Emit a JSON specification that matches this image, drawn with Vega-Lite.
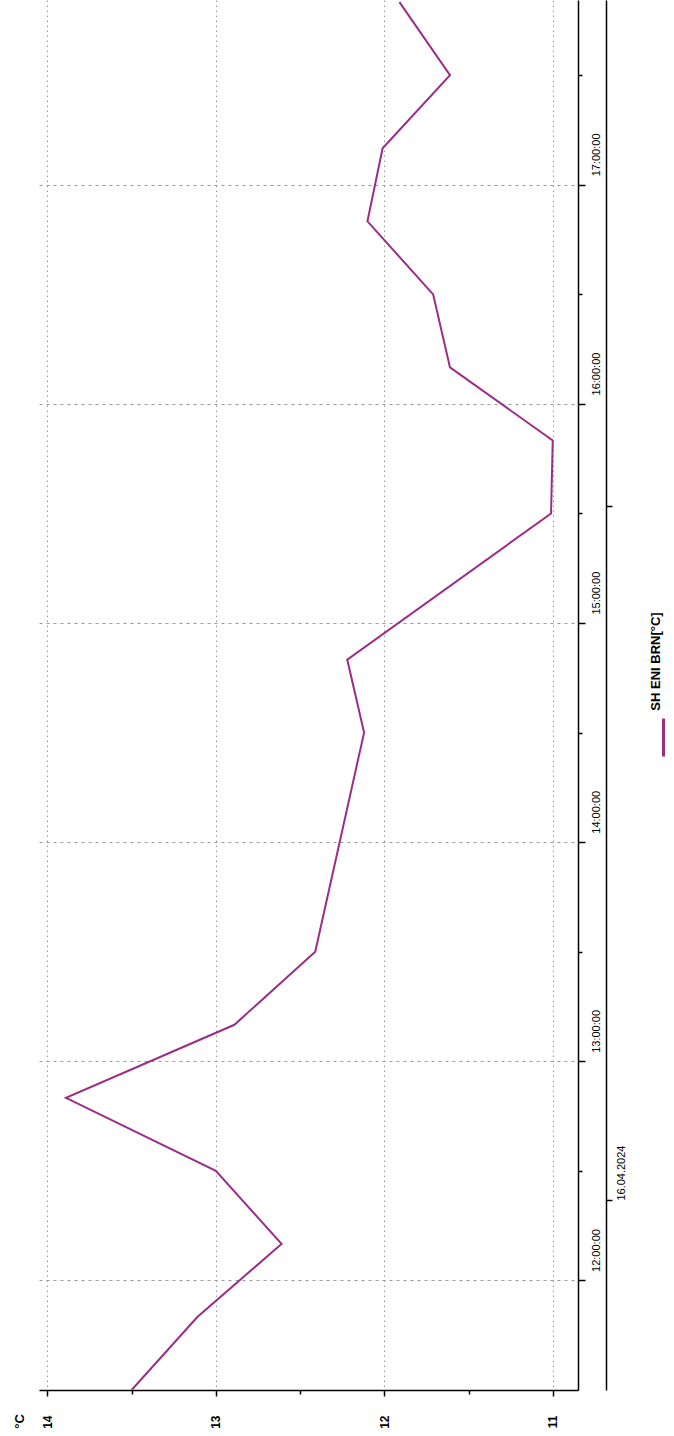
{
  "$schema": "https://vega.github.io/schema/vega-lite/v6.json",
  "width": 539,
  "height": 1390,
  "autosize": "none",
  "padding": {"left": 39, "top": 0, "right": 96, "bottom": 46},
  "background": "white",
  "config": {"view": {"stroke": null}, "font": "Liberation Sans"},
  "data": {
    "values": [
      {"time": "2024-04-16T11:30:00", "temp": 13.50, "series": "SH ENI BRN[°C]"},
      {"time": "2024-04-16T11:50:00", "temp": 13.11, "series": "SH ENI BRN[°C]"},
      {"time": "2024-04-16T12:10:00", "temp": 12.61, "series": "SH ENI BRN[°C]"},
      {"time": "2024-04-16T12:30:00", "temp": 13.00, "series": "SH ENI BRN[°C]"},
      {"time": "2024-04-16T12:50:00", "temp": 13.89, "series": "SH ENI BRN[°C]"},
      {"time": "2024-04-16T13:10:00", "temp": 12.89, "series": "SH ENI BRN[°C]"},
      {"time": "2024-04-16T13:30:00", "temp": 12.41, "series": "SH ENI BRN[°C]"},
      {"time": "2024-04-16T14:30:00", "temp": 12.12, "series": "SH ENI BRN[°C]"},
      {"time": "2024-04-16T14:50:00", "temp": 12.22, "series": "SH ENI BRN[°C]"},
      {"time": "2024-04-16T15:30:00", "temp": 11.01, "series": "SH ENI BRN[°C]"},
      {"time": "2024-04-16T15:50:00", "temp": 11.00, "series": "SH ENI BRN[°C]"},
      {"time": "2024-04-16T16:10:00", "temp": 11.61, "series": "SH ENI BRN[°C]"},
      {"time": "2024-04-16T16:30:00", "temp": 11.71, "series": "SH ENI BRN[°C]"},
      {"time": "2024-04-16T16:50:00", "temp": 12.10, "series": "SH ENI BRN[°C]"},
      {"time": "2024-04-16T17:10:00", "temp": 12.01, "series": "SH ENI BRN[°C]"},
      {"time": "2024-04-16T17:30:00", "temp": 11.61, "series": "SH ENI BRN[°C]"},
      {"time": "2024-04-16T17:50:00", "temp": 11.91, "series": "SH ENI BRN[°C]"}
    ]
  },
  "layer": [
    {
      "mark": {"type": "line", "strokeWidth": 2, "clip": true},
      "encoding": {
        "x": {
          "field": "temp",
          "type": "quantitative",
          "scale": {"domain": [10.85, 14.05], "reverse": true, "nice": false, "zero": false},
          "axis": {
            "orient": "bottom",
            "values": [11, 12, 13, 14],
            "format": "d",
            "labelAngle": 270,
            "labelAlign": "right",
            "labelBaseline": "middle",
            "labelPadding": 19,
            "labelFontSize": 12,
            "labelFontWeight": "bold",
            "labelColor": "black",
            "labelOverlap": false,
            "labelBound": false,
            "labelFlush": false,
            "domainColor": "black",
            "domainWidth": 1.5,
            "tickColor": "black",
            "tickWidth": 1.5,
            "tickSize": 6,
            "grid": true,
            "gridColor": "#999999",
            "gridDash": [1.5, 3.5],
            "title": "°C",
            "titleAngle": 270,
            "titleX": -20,
            "titleY": 31,
            "titleAlign": "center",
            "titleBaseline": "middle",
            "titleFontSize": 13,
            "titleFontWeight": "bold",
            "titleColor": "black"
          }
        },
        "y": {
          "field": "time",
          "type": "temporal",
          "scale": {
            "domain": [
              {"year": 2024, "month": 4, "date": 16, "hours": 11, "minutes": 30},
              {"year": 2024, "month": 4, "date": 16, "hours": 17, "minutes": 50, "seconds": 36}
            ]
          },
          "axis": {
            "orient": "right",
            "title": null,
            "values": [
              {"year": 2024, "month": 4, "date": 16, "hours": 12},
              {"year": 2024, "month": 4, "date": 16, "hours": 13},
              {"year": 2024, "month": 4, "date": 16, "hours": 14},
              {"year": 2024, "month": 4, "date": 16, "hours": 15},
              {"year": 2024, "month": 4, "date": 16, "hours": 16},
              {"year": 2024, "month": 4, "date": 16, "hours": 17}
            ],
            "format": "%H:%M:%S",
            "labelAngle": 270,
            "labelAlign": "left",
            "labelBaseline": "middle",
            "labelPadding": 11,
            "labelOffset": -9,
            "labelFontSize": 11,
            "labelColor": "black",
            "labelOverlap": false,
            "labelBound": false,
            "labelFlush": false,
            "domainColor": "black",
            "domainWidth": 1.5,
            "tickColor": "black",
            "tickWidth": 1.5,
            "tickSize": 7,
            "grid": true,
            "gridColor": "#999999",
            "gridDash": [3, 4]
          }
        },
        "color": {
          "field": "series",
          "type": "nominal",
          "scale": {"range": ["#9b2d87"]},
          "legend": {
            "orient": "none",
            "legendX": 604,
            "legendY": 717,
            "title": null,
            "padding": 0,
            "symbolType": "M0,-1L0,1",
            "symbolSize": 1444,
            "symbolStrokeWidth": 3,
            "symbolStrokeColor": "#cc44b0",
            "labelOpacity": 0,
            "labelLimit": 1
          }
        }
      }
    },
    {
      "mark": {"type": "line", "opacity": 0},
      "encoding": {
        "x": {
          "field": "temp",
          "type": "quantitative",
          "scale": {"domain": [10.85, 14.05], "reverse": true, "nice": false, "zero": false},
          "axis": {
            "orient": "bottom",
            "values": [11.5, 12.5, 13.5],
            "labels": false,
            "domain": false,
            "grid": false,
            "title": null,
            "tickColor": "black",
            "tickWidth": 1.5,
            "tickSize": 4
          }
        },
        "y": {
          "field": "time",
          "type": "temporal",
          "scale": {
            "domain": [
              {"year": 2024, "month": 4, "date": 16, "hours": 11, "minutes": 30},
              {"year": 2024, "month": 4, "date": 16, "hours": 17, "minutes": 50, "seconds": 36}
            ]
          },
          "axis": {
            "orient": "right",
            "values": [
              {"year": 2024, "month": 4, "date": 16, "hours": 12, "minutes": 30},
              {"year": 2024, "month": 4, "date": 16, "hours": 13, "minutes": 30},
              {"year": 2024, "month": 4, "date": 16, "hours": 14, "minutes": 30},
              {"year": 2024, "month": 4, "date": 16, "hours": 15, "minutes": 30},
              {"year": 2024, "month": 4, "date": 16, "hours": 16, "minutes": 30},
              {"year": 2024, "month": 4, "date": 16, "hours": 17, "minutes": 30}
            ],
            "labels": false,
            "domain": false,
            "grid": false,
            "title": null,
            "tickColor": "black",
            "tickWidth": 1.5,
            "tickSize": 4
          }
        }
      }
    },
    {
      "mark": {"type": "line", "opacity": 0},
      "encoding": {
        "x": {
          "field": "temp",
          "type": "quantitative",
          "scale": {"domain": [10.85, 14.05], "reverse": true, "nice": false, "zero": false},
          "axis": null
        },
        "y": {
          "field": "time",
          "type": "temporal",
          "scale": {
            "domain": [
              {"year": 2024, "month": 4, "date": 16, "hours": 11, "minutes": 30},
              {"year": 2024, "month": 4, "date": 16, "hours": 17, "minutes": 50, "seconds": 36}
            ]
          },
          "axis": {
            "orient": "right",
            "offset": 28,
            "values": [
              {"year": 2024, "month": 4, "date": 16, "hours": 12, "minutes": 22},
              {"year": 2024, "month": 4, "date": 16, "hours": 15, "minutes": 32}
            ],
            "labelExpr": "hours(datum.value) === 12 ? '16.04.2024' : ''",
            "labelAngle": 270,
            "labelAlign": "left",
            "labelBaseline": "middle",
            "labelPadding": 9,
            "labelFontSize": 11,
            "labelColor": "black",
            "labelOverlap": false,
            "labelBound": false,
            "labelFlush": false,
            "grid": false,
            "domainColor": "black",
            "domainWidth": 1.5,
            "tickColor": "black",
            "tickWidth": 1.5,
            "tickSize": 6,
            "title": "SH ENI BRN[°C]",
            "titleAngle": 270,
            "titleX": 49,
            "titleY": 661,
            "titleAlign": "center",
            "titleBaseline": "middle",
            "titleFontSize": 13,
            "titleFontWeight": "bold",
            "titleColor": "black"
          }
        }
      }
    }
  ],
  "resolve": {"axis": {"x": "independent", "y": "independent"}}
}
